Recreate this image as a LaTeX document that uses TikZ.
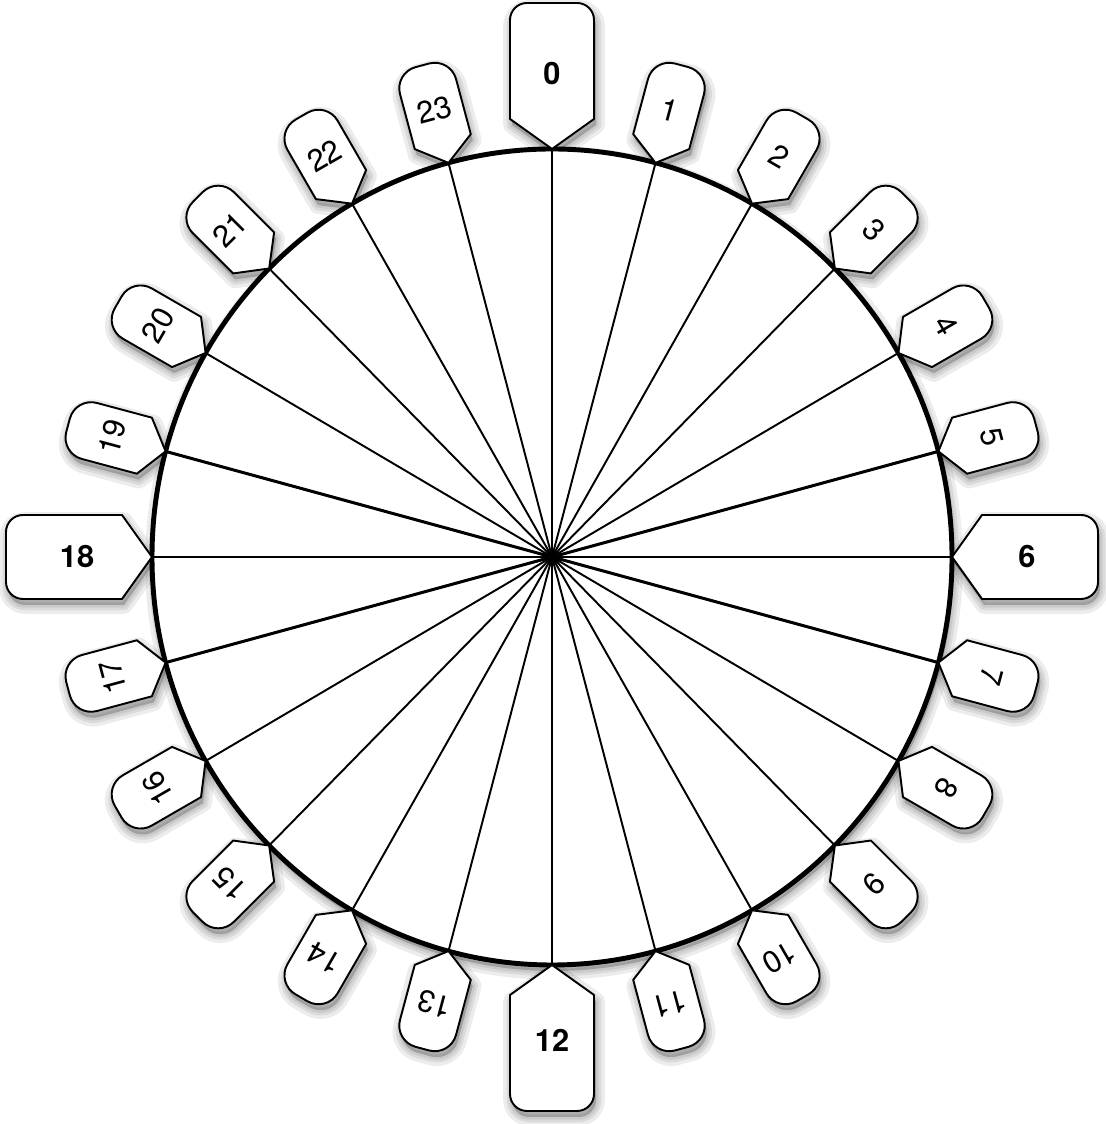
\documentclass[tikz,border=0pt]{standalone}
\usepackage{fontspec}
\setmainfont{TeX Gyre Heros}
\usetikzlibrary{calc}

\begin{document}
\begin{tikzpicture}[
    x=0.02cm, y=0.02cm,
    rim/.style={line width=2.8pt},
    spoke/.style={line width=1.1pt},
    heavyspoke/.style={line width=1.7pt},
    tagline/.style={draw, fill=white, line width=1.1pt, line join=round},
    shade/.style={fill=black, draw=black, opacity=0.075, line join=round},
    minorlabel/.style={font=\fontsize{17.5}{18}\selectfont, inner sep=0pt},
    majorlabel/.style={font=\fontsize{17.5}{18}\selectfont\bfseries, inner sep=0pt},
    minortag/.pic={\path[pic actions] (0,0) -- (29,22) [rounded corners=4.4mm] -- (29,101) -- (-29,101) [sharp corners] -- (-29,22) -- cycle;},
    majortag/.pic={\path[pic actions] (0,0) -- (42,30) [rounded corners=3.4mm] -- (42,146) -- (-42,146) [sharp corners] -- (-42,30) -- cycle;}
]
    \useasboundingbox (0,0) rectangle (1105,1124);

    \begin{scope}[shift={(552,567)}]
    % Soft shadows under the dial and the tags
    \begin{scope}[xshift=0.4mm, yshift=-1.2mm]
        \foreach \s in {10pt,6pt,3pt} {
            \path[shade, line width=\s] (0,0) ellipse (400 and 408);
            \foreach \k in {1,2,3,4,5,7,8,9,10,11,13,14,15,16,17,19,20,21,22,23}
                \pic[shade, line width=\s, rotate=-15*\k] at ({90-15*\k}:400 and 408) {minortag};
            \foreach \k in {0,6,12,18}
                \pic[shade, line width=\s, rotate=-15*\k] at ({90-15*\k}:400 and 408) {majortag};
        }
    \end{scope}

    % Dial and spokes
    \coordinate (hub) at (0,0);
    \foreach \k in {0,...,23}
        \coordinate (p\k) at ({90-15*\k}:400 and 408);
    \fill[white] (hub) ellipse (400 and 408);
    \foreach \k in {0,...,23}
        \draw[spoke] (hub) -- (p\k);
    \foreach \k in {5,7,17,19}
        \draw[heavyspoke] (hub) -- (p\k);
    \draw[rim] (hub) ellipse (400 and 408);

    % Hour tags
    \foreach \k in {1,2,3,4,5,7,8,9,10,11,13,14,15,16,17,19,20,21,22,23} {
        \pic[tagline, rotate=-15*\k] at (p\k) {minortag};
        \node[minorlabel, rotate=-15*\k] (t\k) at ($(p\k)+({90-15*\k}:55)$) {\k};
    }
    \foreach \k in {0,6,12,18} {
        \pic[tagline, rotate=-15*\k] at (p\k) {majortag};
        \node[majorlabel] (t\k) at ($(p\k)+({90-15*\k}:75)$) {\k};
    }
    \end{scope}
\end{tikzpicture}
\end{document}
